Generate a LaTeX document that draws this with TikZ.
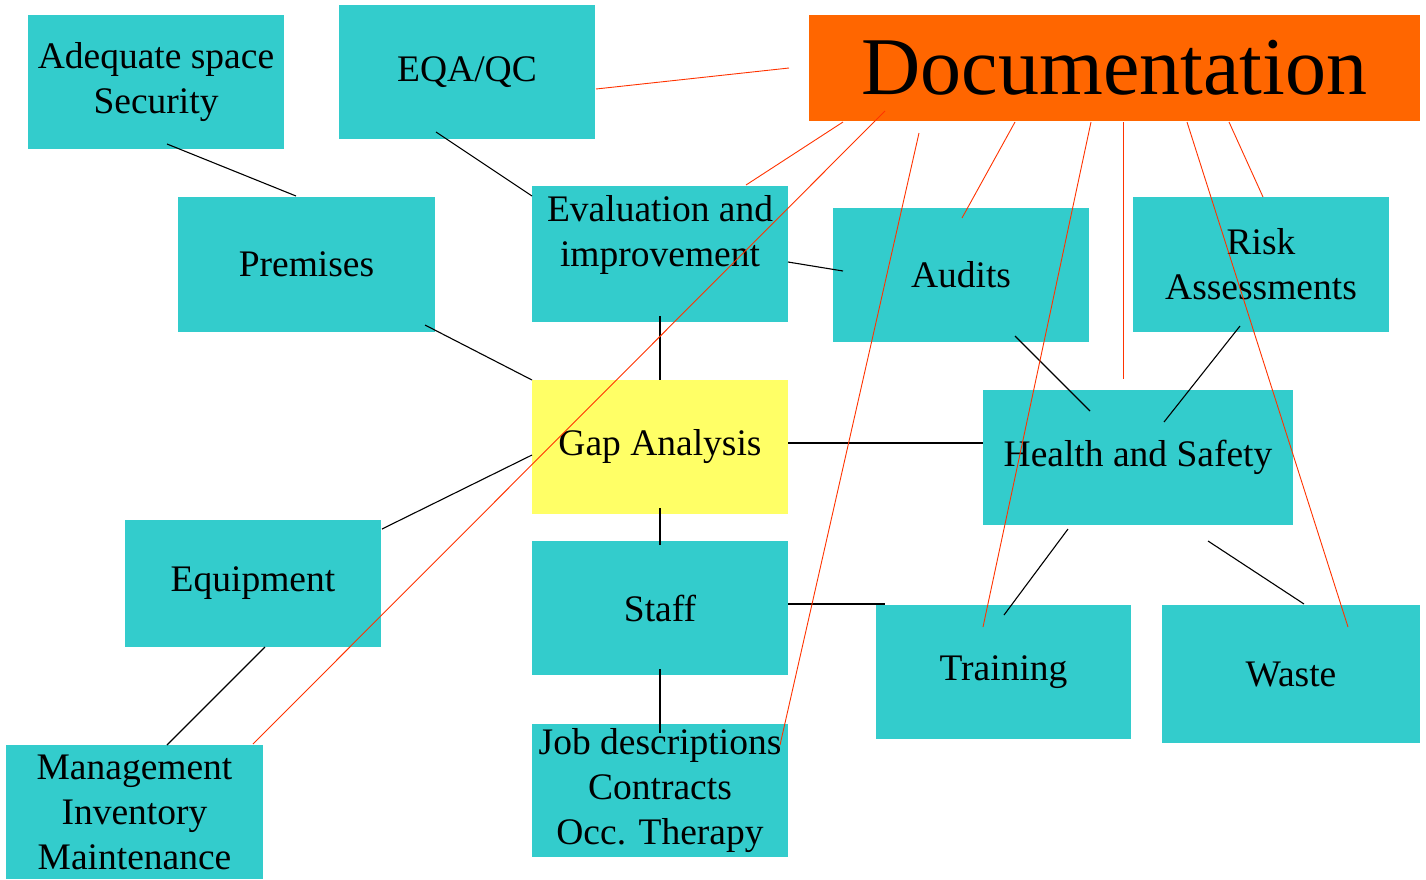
\documentclass[tikz,border=0pt]{standalone}
\usepackage{fontspec}
\setmainfont{Liberation Serif}
\definecolor{teal}{HTML}{33CCCC}
\definecolor{gapyellow}{HTML}{FFFF66}
\definecolor{docorange}{HTML}{FF6600}
\definecolor{docred}{HTML}{FF3300}
\begin{document}
\begin{tikzpicture}[x=1pt,y=-1pt,
  box/.style={fill=teal,draw=none,inner sep=0pt,outer sep=0pt,anchor=north west,align=center,
    font=\fontsize{37.5}{45}\selectfont},
  blk/.style={draw=black,line width=1.1pt},
  rd/.style={draw=docred,line width=0.9pt}]
\useasboundingbox (0,0) rectangle (1426,879);
% boxes
\node[box,minimum width=256pt,minimum height=134pt] (ade) at (28,15) {Adequate space\\Security};
\node[box,minimum width=256pt,minimum height=134pt] (eqa) at (339,5) {EQA/QC};
\node[box,fill=docorange,minimum width=611pt,minimum height=106pt,font=\fontsize{82}{90}\selectfont] (doc) at (809,15) {Documentation};
\node[box,minimum width=257pt,minimum height=135pt] (prem) at (178,197) {Premises};
\node[box,minimum width=256pt,minimum height=136pt] (eval) at (532,186) {Evaluation and\\improvement\\[-13pt]\strut};
\node[box,minimum width=256pt,minimum height=134pt] (aud) at (833,208) {Audits};
\node[box,minimum width=256pt,minimum height=135pt] (risk) at (1133,197) {Risk\\Assessments};
\node[box,fill=gapyellow,minimum width=256pt,minimum height=134pt] (gap) at (532,380) {Gap Analysis};
\node[box,minimum width=310pt,minimum height=135pt] (hs) at (983,390) {Health and Safety};
\node[box,minimum width=256pt,minimum height=127pt] (equip) at (125,520) {Equipment};
\node[box,minimum width=256pt,minimum height=134pt] (staff) at (532,541) {Staff};
\node[box,minimum width=255pt,minimum height=134pt] (train) at (876,605) {Training};
\node[box,minimum width=258pt,minimum height=138pt] (waste) at (1162,605) {Waste};
\node[box,minimum width=257pt,minimum height=134pt] (mgmt) at (6,745) {Management\\Inventory\\Maintenance};
\node[box,minimum width=256pt,minimum height=133pt] (job) at (532,724) {Job descriptions\\Contracts\\Occ. Therapy};
% black connectors
\draw[blk] ([shift={(139,-5)}]ade.south west) -- ([shift={(118,-1)}]prem.north west);
\draw[blk] ([shift={(97,-7)}]eqa.south west) -- ([shift={(0,10)}]eval.north west);
\draw[blk] ([shift={(-10,-7)}]prem.south east) -- (gap.north west);
\draw[blk] ([shift={(0,-6)}]eval.south) -- (gap.north);
\draw[blk] ([shift={(0,76)}]eval.north east) -- ([shift={(10,63)}]aud.north west);
\draw[blk] ([shift={(0,75)}]gap.north west) -- ([shift={(1,9)}]equip.north east);
\draw[blk] ([shift={(0,-6)}]gap.south) -- ([shift={(0,4)}]staff.north);
\draw[blk] ([shift={(0,63)}]gap.north east) -- ([shift={(0,53)}]hs.north west);
\draw[blk] ([shift={(182,-6)}]aud.south west) -- ([shift={(107,21)}]hs.north west);
\draw[blk] ([shift={(107,-6)}]risk.south west) -- ([shift={(181,32)}]hs.north west);
\draw[blk] ([shift={(0,63)}]staff.north east) -- ([shift={(9,-1)}]train.north west);
\draw[blk] ([shift={(0,-6)}]staff.south) -- ([shift={(0,9)}]job.north);
\draw[blk] ([shift={(85,4)}]hs.south west) -- ([shift={(128,10)}]train.north west);
\draw[blk] ([shift={(225,16)}]hs.south west) -- ([shift={(142,-1)}]waste.north west);
\draw[blk] ([shift={(140,0)}]equip.south west) -- ([shift={(161,0)}]mgmt.north west);
% red connectors from Documentation
\draw[rd] ([shift={(1,84)}]eqa.north east) -- ([shift={(-20,53)}]doc.north west);
\draw[rd] ([shift={(34,1)}]doc.south west) -- ([shift={(214,-1)}]eval.north west);
\draw[rd] ([shift={(76,-10)}]doc.south west) -- ([shift={(247,-1)}]mgmt.north west);
\draw[rd] ([shift={(110,12)}]doc.south west) -- ([shift={(248,21)}]job.north west);
\draw[rd] ([shift={(206,1)}]doc.south west) -- ([shift={(129,10)}]aud.north west);
\draw[rd] ([shift={(282,1)}]doc.south west) -- ([shift={(107,22)}]train.north west);
\draw[rd] ([shift={(314,1)}]doc.south west) -- ([shift={(140,-11)}]hs.north west);
\draw[rd] ([shift={(378,1)}]doc.south west) -- ([shift={(186,22)}]waste.north west);
\draw[rd] ([shift={(420,1)}]doc.south west) -- ([shift={(130,0)}]risk.north west);
\end{tikzpicture}
\end{document}
